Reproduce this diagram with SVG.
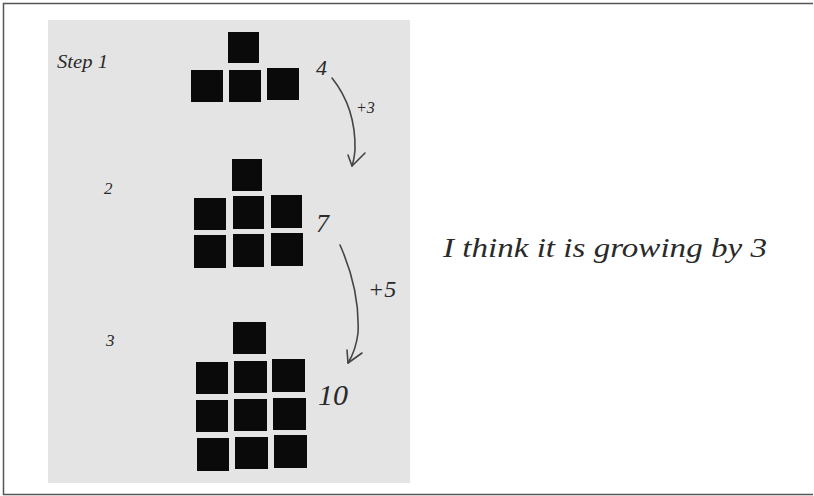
<svg xmlns="http://www.w3.org/2000/svg" width="814" height="496" viewBox="0 0 814 496">
<style>
.sq{fill:#0a0a0a}
.hw{font-family:"Liberation Serif",serif;font-style:italic;fill:#2a2a2a}
.arrow{fill:none;stroke:#444;stroke-width:1.6;stroke-linecap:round;stroke-linejoin:round}
.frame{stroke:#555;stroke-width:1.5;fill:none}
</style>
<rect width="814" height="496" fill="#ffffff"/>
<path class="frame" d="M813,3.5 H3.5 V494.5 H813"/>
<rect x="48" y="20" width="362" height="463" fill="#e4e4e4"/>
<g id="step1">
<text class="hw" x="57" y="68" font-size="18" textLength="51" lengthAdjust="spacingAndGlyphs">Step 1</text>
<rect class="sq" x="228" y="32" width="31" height="31"/>
<rect class="sq" x="191" y="70" width="32" height="32"/>
<rect class="sq" x="229" y="70" width="32" height="32"/>
<rect class="sq" x="267" y="68" width="32" height="32"/>
<text class="hw" x="316" y="75" font-size="22">4</text>
</g>
<g id="step2">
<text class="hw" x="104" y="194" font-size="17">2</text>
<rect class="sq" x="232" y="159" width="30" height="32"/>
<rect class="sq" x="194" y="198" width="32" height="32"/>
<rect class="sq" x="233" y="196" width="31" height="33"/>
<rect class="sq" x="271" y="195" width="31" height="33"/>
<rect class="sq" x="194" y="235" width="32" height="33"/>
<rect class="sq" x="233" y="234" width="31" height="33"/>
<rect class="sq" x="271" y="233" width="32" height="33"/>
<text class="hw" x="316" y="232" font-size="26">7</text>
</g>
<g id="step3">
<text class="hw" x="106" y="346" font-size="17">3</text>
<rect class="sq" x="233" y="322" width="33" height="32"/>
<rect class="sq" x="196" y="362" width="32" height="32"/>
<rect class="sq" x="234" y="361" width="33" height="32"/>
<rect class="sq" x="272" y="359" width="33" height="33"/>
<rect class="sq" x="196" y="400" width="32" height="32"/>
<rect class="sq" x="234" y="399" width="33" height="32"/>
<rect class="sq" x="273" y="398" width="33" height="32"/>
<rect class="sq" x="197" y="438" width="32" height="33"/>
<rect class="sq" x="235" y="437" width="33" height="32"/>
<rect class="sq" x="274" y="435" width="33" height="33"/>
<text class="hw" x="318" y="405" font-size="30">10</text>
</g>
<g id="connectors">
<path class="arrow" d="M332,78 Q356,108 355,150 Q354,160 352,166"/>
<path class="arrow" d="M348,155 L352,166 L365,153"/>
<text class="hw" x="356" y="113" font-size="16" fill="#555">+3</text>
<path class="arrow" d="M340,245 Q360,290 358,333 Q356,350 348,363"/>
<path class="arrow" d="M347,350 L348,363 L362,353"/>
<text class="hw" x="368" y="297" font-size="24">+5</text>
</g>
<g id="note">
<text class="hw" x="443" y="257" font-size="27" textLength="324" lengthAdjust="spacingAndGlyphs" fill="#111">I think it is growing by 3</text>
</g>
</svg>
